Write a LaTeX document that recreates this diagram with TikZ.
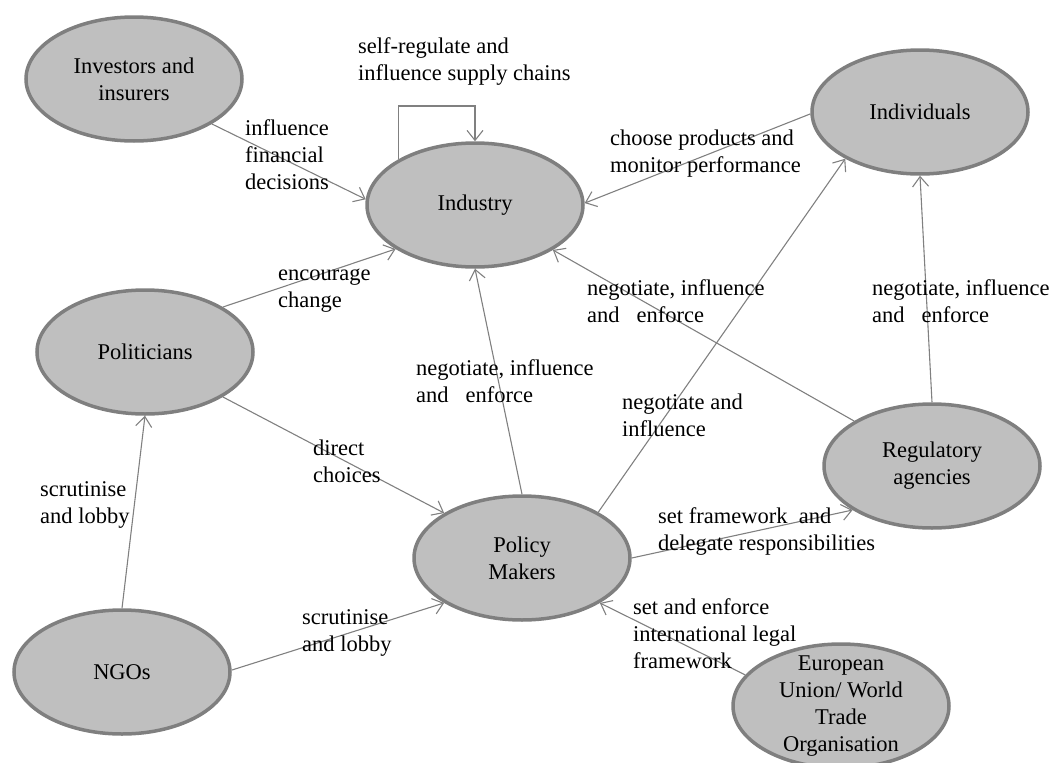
\documentclass[tikz,border=0pt]{standalone}
\usepackage{fontspec}
\setmainfont{Liberation Serif}
\usetikzlibrary{shapes.geometric,arrows.meta}
\definecolor{nodefill}{HTML}{BFBFBF}
\definecolor{nodeline}{HTML}{7F7F7F}
\definecolor{linkline}{HTML}{808080}
\begin{document}
\begin{tikzpicture}[x=1pt,y=-1pt,
  txt/.style={font=\fontsize{22.5}{27}\selectfont, inner sep=0pt},
  actor/.style={ellipse, draw=nodeline, fill=nodefill, line width=3.5pt,
                minimum width=216pt, minimum height=124pt, inner sep=0pt},
  caption/.style={txt, align=center},
  link/.style={draw=linkline, line width=1.1pt,
               -{Straight Barb[length=10pt,width=16pt,line width=1.1pt]}},
  edgetxt/.style={txt, align=left, anchor=west}]
\useasboundingbox (0,0) rectangle (1053,763);

% actors
\node[actor, label={[caption]center:{Investors and\\insurers}}] (inv) at (134,79) {};
\node[actor, label={[caption]center:Industry}] (ind) at (475,205) {};
\node[actor, label={[caption]center:Individuals}] (ivd) at (920,112) {};
\node[actor, label={[caption]center:Politicians}] (pol) at (145,352) {};
\node[actor, label={[caption]center:{Regulatory\\agencies}}] (reg) at (932,466) {};
\node[actor, label={[caption]center:{Policy\\Makers}}] (pm) at (522,558) {};
\node[actor, label={[caption]center:NGOs}] (ngo) at (122,672) {};
\node[actor, label={[caption]center:{European\\Union/ World\\Trade\\Organisation}}] (eu) at (841,706) {};

\coordinate (loop) at (475,106);

% relations
\draw[link] (inv.-30) -- (ind.177);
\draw[link] (ind.149.5) |- (loop) -- (ind.north);
\draw[link] (ivd.181.5) -- (ind.1.6);
\draw[link] (pol.30) -- (ind.209);
\draw[link] (pol.-30.5) -- (pm.150);
\draw[link] (ngo.north) -- (pol.south);
\draw[link] (ngo.1) -- (pm.210);
\draw[link] (pm.north) -- (ind.south);
\draw[link] (pm.31.6) -- (ivd.212);
\draw[link] (pm.east) -- (reg.209);
\draw[link] (reg.150) -- (ind.-30);
\draw[link] (reg.north) -- (ivd.south);
\draw[link] (eu.162.5) -- (pm.-30);

% relation texts
\node[edgetxt] (tInv) at (245,155) {influence\\financial\\decisions};
\node[edgetxt] (tLoop) at (358,62) {self-regulate and\\influence supply chains};
\node[edgetxt] (tIvd) at (610,153.5) {choose products and\\monitor performance};
\node[edgetxt] (tPolInd) at (278,291) {encourage\\change};
\node[edgetxt] (tPolPm) at (313,461) {direct\\choices};
\node[edgetxt] (tNgoPol) at (40,505) {scrutinise\\and lobby};
\node[edgetxt] (tNgoPm) at (302,633) {scrutinise\\and lobby};
\node[edgetxt] (tPmInd) at (416,381) {negotiate, influence\\and\ \ \ enforce};
\node[edgetxt] (tPmIvd) at (622,415) {negotiate and\\influence};
\node[edgetxt] (tRegInd) at (587,301) {negotiate, influence\\and\ \ \ enforce};
\node[edgetxt] (tRegIvd) at (872,301) {negotiate, influence\\and\ \ \ enforce};
\node[edgetxt] (tPmReg) at (658,532) {set framework\ \ and\\delegate responsibilities};
\node[edgetxt] (tEu) at (633,634) {set and enforce\\international legal\\framework};
\end{tikzpicture}
\end{document}
